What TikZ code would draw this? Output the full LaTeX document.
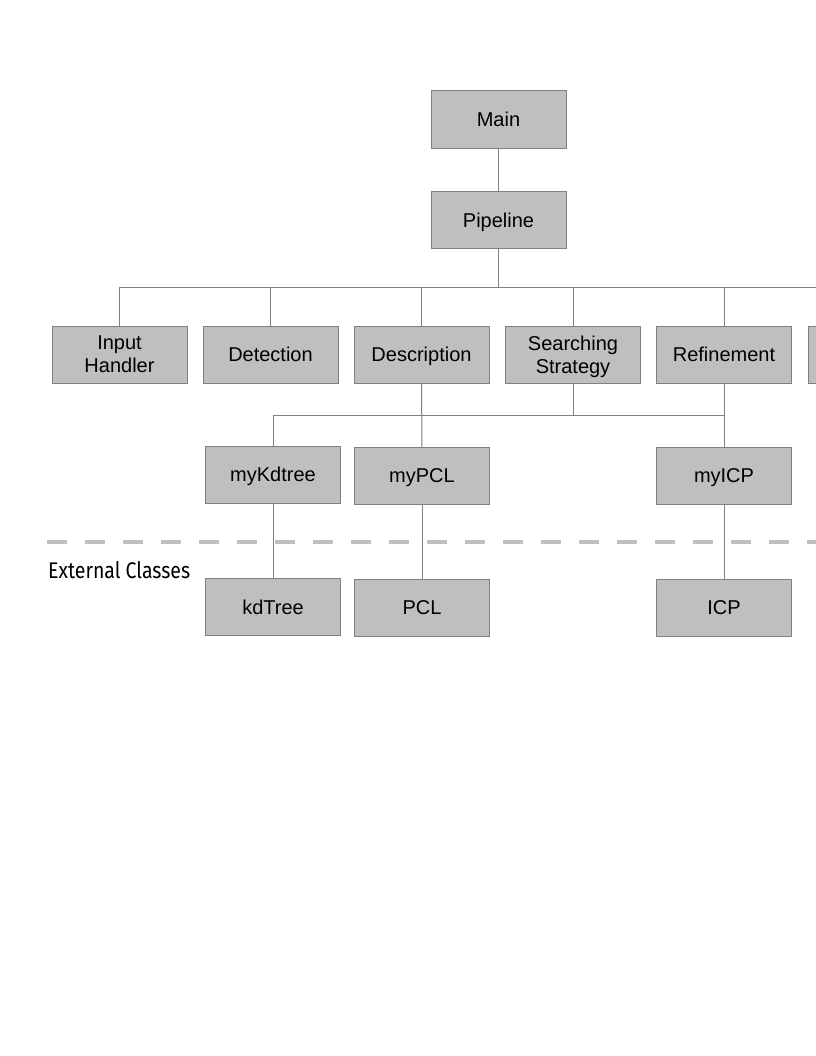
\documentclass[tikz,border=0pt]{standalone}
\usepackage{fontspec}
\setmainfont{Liberation Sans}
\newfontfamily\labelfont{Fira Sans}
\begin{document}
\begin{tikzpicture}[x=0.75pt,y=-0.75pt,
  cls/.style={draw=black!50,fill=black!25,line width=0.75pt,minimum width=101.25pt,minimum height=42.75pt,inner sep=0pt,align=center,text depth=0pt,font=\fontsize{15pt}{17.25pt}\selectfont},
  link/.style={draw=black!50,line width=0.75pt},
  sep/.style={draw=black!25,line width=3pt,dash pattern=on 15pt off 13.5pt}]
\useasboundingbox (0,0) rectangle (816,1056);
\node[cls] (main) at (498.5,119.5) {Main};
\node[cls] (pipe) at (498.5,220) {Pipeline};
\node[cls] (input) at (119.5,354.5) {Input\\Handler};
\node[cls] (det) at (270.5,354.5) {Detection};
\node[cls] (desc) at (421.5,354.5) {Description};
\node[cls] (strat) at (573,354.5) {Searching\\Strategy};
\node[cls] (ref) at (724,354.5) {Refinement};
\node[cls] (more) at (875.5,354.5) {};
\node[cls] (mykd) at (273,474.5) {myKdtree};
\node[cls] (mypcl) at (422,475.5) {myPCL};
\node[cls] (myicp) at (724,475.5) {myICP};
\node[cls] (kd) at (273,607) {kdTree};
\node[cls] (pcl) at (422,608) {PCL};
\node[cls] (icp) at (724,608) {ICP};
\coordinate (b1) at (498.5,287);
\coordinate (b2) at (724,415);
\draw[link] (main) -- (pipe);
\draw[link] (pipe) -- (b1);
\foreach \n in {input,det,desc,strat,ref,more}{\draw[link] (\n.north) |- (b1);}
\draw[link] (desc) -- (mypcl);
\draw[link] (ref) -- (myicp);
\draw[link] (strat.south) -- (strat.south |- b2);
\draw[link] (mykd.north) |- (b2);
\draw[sep] (47,542) -- (830,542);
\draw[link] (mykd) -- (kd);
\draw[link] (mypcl) -- (pcl);
\draw[link] (myicp) -- (icp);
\node[anchor=west,inner sep=0pt,font=\labelfont\fontsize{17pt}{20pt}\selectfont,xscale=0.86] (ext) at (48,570) {External Classes};
\end{tikzpicture}
\end{document}
